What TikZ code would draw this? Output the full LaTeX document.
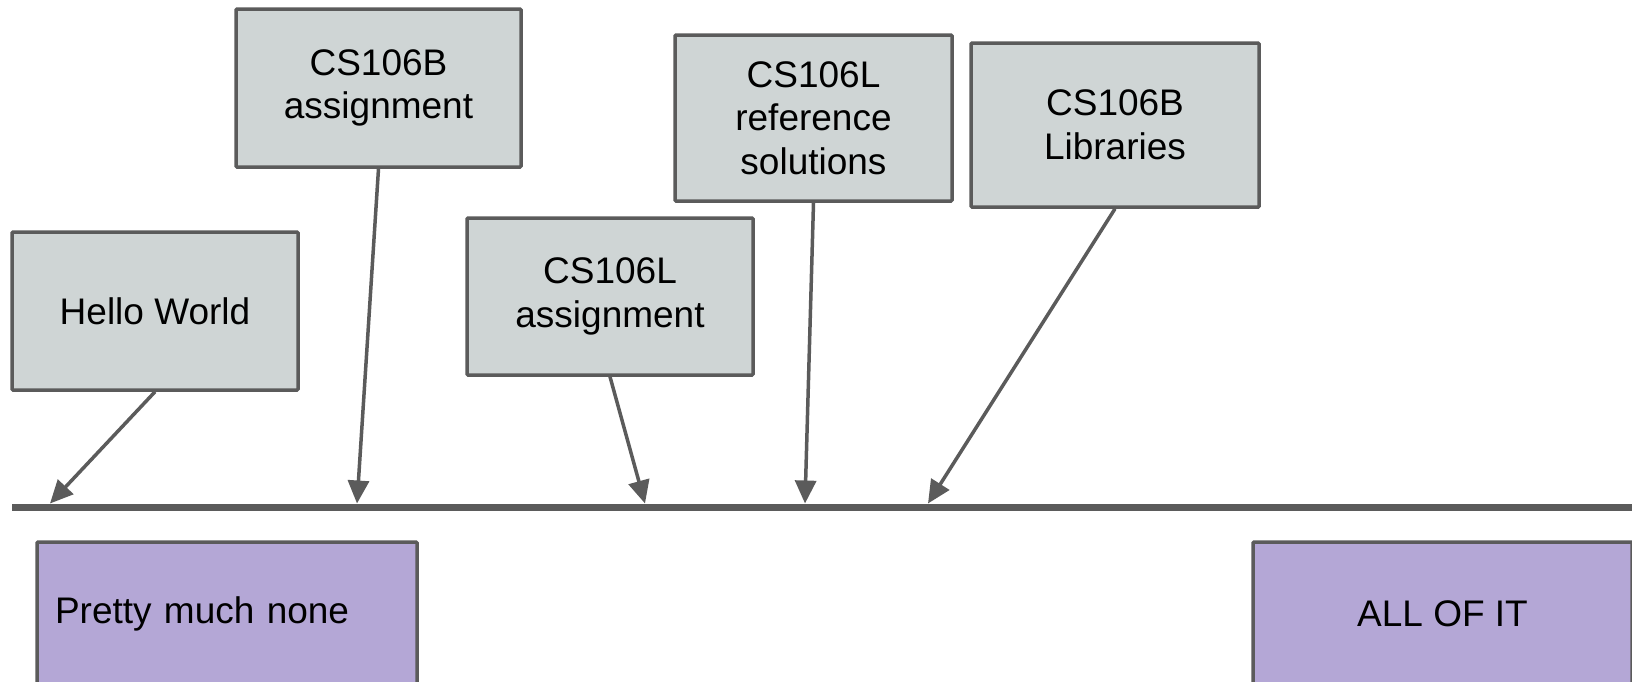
\documentclass[tikz,border=0pt]{standalone}
\usepackage{fontspec}
\setmainfont{Liberation Sans}
\usetikzlibrary{arrows.meta}
\definecolor{boxgray}{HTML}{CFD5D5}
\definecolor{boxpurple}{HTML}{B4A7D6}
\definecolor{edgegray}{HTML}{5B5B5B}
\begin{document}
\begin{tikzpicture}[x=1pt,y=-1pt,
  every node/.style={font=\fontsize{37}{43.5}\selectfont, text=black},
  graybox/.style={draw=edgegray, line width=3.5pt, fill=boxgray, rectangle, rounded corners=1pt, inner sep=0pt, align=center},
  purplebox/.style={draw=edgegray, line width=3.5pt, fill=boxpurple, rectangle, rounded corners=1pt, inner sep=0pt},
  pointer/.style={draw=edgegray, line width=3.5pt, -{Triangle[length=23pt,width=21pt]}},
  timeline/.style={draw=edgegray, line width=7pt}]
\useasboundingbox (0,0) rectangle (1632,681);

\node[graybox, minimum width=286pt, minimum height=158pt] (hw) at (155,311) {Hello World};
\node[graybox, minimum width=285pt, minimum height=158pt] (ba) at (378.5,88) {CS106B\\assignment};
\node[graybox, minimum width=286pt, minimum height=157pt] (la) at (610,296.5) {CS106L\\assignment};
\node[graybox, minimum width=277pt, minimum height=166pt] (lr) at (813.5,118) {CS106L\\reference\\solutions};
\node[graybox, minimum width=288pt, minimum height=164pt] (lib) at (1115,125) {CS106B\\Libraries};

\node[purplebox, minimum width=380pt, minimum height=144pt, text width=344pt, inner xsep=18pt, align=left] (none) at (227,614) {Pretty much none};
\node[purplebox, minimum width=379pt, minimum height=144pt, align=center] (all) at (1442.5,614) {ALL OF IT};

\coordinate (L) at (12,507);
\coordinate (R) at (1632,507);
\draw[timeline] (L) -- (R);

\coordinate (t1) at (50,503.5);
\coordinate (t2) at (357,503.5);
\coordinate (t3) at (645,503.5);
\coordinate (t4) at (805,503.5);
\coordinate (t5) at (928,503.5);

\draw[pointer] (hw.south) -- (t1);
\draw[pointer] (ba.south) -- (t2);
\draw[pointer] (la.south) -- (t3);
\draw[pointer] (lr.south) -- (t4);
\draw[pointer] (lib.south) -- (t5);
\end{tikzpicture}
\end{document}
